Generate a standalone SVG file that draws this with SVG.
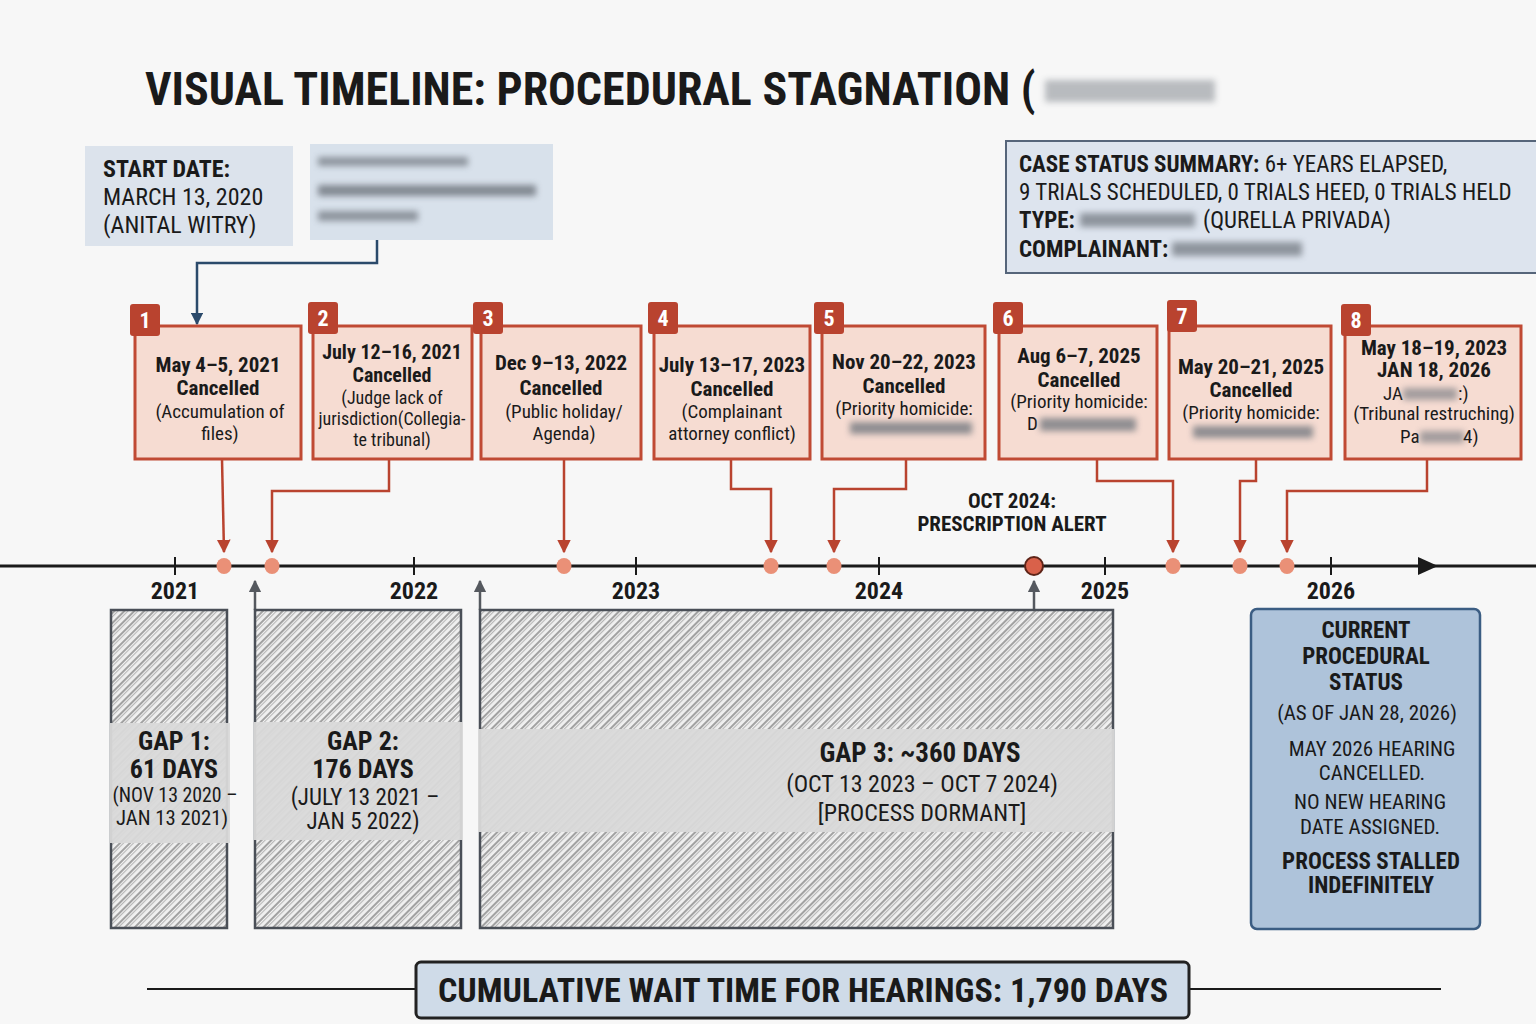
<svg xmlns="http://www.w3.org/2000/svg" width="1536" height="1024" viewBox="0 0 1536 1024">
<style>
text{font-family:"Liberation Sans Narrow","Roboto Condensed","Liberation Sans",Arial,sans-serif;fill:#1a1a1a}
.b{font-weight:bold}
.c{text-anchor:middle}
.ev{fill:#f6dcd2;stroke:#c04a34;stroke-width:3}
.badge{fill:#b9432f}
.bn{fill:#fff;font-weight:bold;font-size:22px;text-anchor:middle}
.et{font-size:21px;font-weight:bold;text-anchor:middle}
.es{font-size:19px;text-anchor:middle}
.con{fill:none;stroke:#b9432f;stroke-width:2.5}
.dot{fill:#ea9077}
.tick{stroke:#1a1a1a;stroke-width:2}
.yr{font-size:24px;font-weight:bold;text-anchor:middle}
.gap{fill:url(#hatch);stroke:#4a4f57;stroke-width:2.5}
.band{fill:#d9d9d9;opacity:0.95}
.gt{font-size:26px;font-weight:bold;text-anchor:middle}
.gs{font-size:22px;text-anchor:middle}
.up{stroke:#55595f;stroke-width:2.5;fill:none}
.blur{fill:#6d737b;filter:url(#bl)}
.st{font-size:23px;font-weight:bold;text-anchor:middle}
.ss{font-size:21px;text-anchor:middle}
.cs{font-size:23px}
</style>
<defs>
<filter id="bl" x="-20%" y="-100%" width="140%" height="300%"><feGaussianBlur stdDeviation="3"/></filter>
<pattern id="hatch" width="7" height="7" patternUnits="userSpaceOnUse" patternTransform="rotate(45)">
<rect width="7" height="7" fill="#f0f0f0"/>
<line x1="2" y1="0" x2="2" y2="7" stroke="#808080" stroke-width="1.4"/>
<line x1="4.6" y1="0" x2="4.6" y2="7" stroke="#a8a8a8" stroke-width="0.9"/>
</pattern>
<marker id="ar" viewBox="0 0 10 10" refX="9" refY="5" markerWidth="5.5" markerHeight="6" markerUnits="strokeWidth" orient="auto"><path d="M0,0 L10,5 L0,10 Z" fill="#b9432f"/></marker>
<marker id="ag" viewBox="0 0 10 10" refX="9" refY="5" markerWidth="5" markerHeight="5" markerUnits="strokeWidth" orient="auto"><path d="M0,0 L10,5 L0,10 Z" fill="#55595f"/></marker>
<marker id="ab" viewBox="0 0 10 10" refX="9" refY="5" markerWidth="5" markerHeight="5" markerUnits="strokeWidth" orient="auto"><path d="M0,0 L10,5 L0,10 Z" fill="#2b4a6b"/></marker>
</defs>
<rect width="1536" height="1024" fill="#f7f7f7"/>

<g id="title">
<text x="145" y="105" class="b" font-size="46">VISUAL TIMELINE: PROCEDURAL STAGNATION (</text>
<rect class="blur" x="1045" y="80" width="170" height="22" opacity="0.45"/>
</g>

<g id="start-box">
<rect x="85" y="146" width="208" height="100" fill="#dce3ec"/>
<text x="103" y="177" class="b" font-size="24">START DATE:</text>
<text x="103" y="205" font-size="24">MARCH 13, 2020</text>
<text x="103" y="233" font-size="24">(ANITAL WITRY)</text>
</g>

<g id="redacted-box">
<rect x="310" y="144" width="243" height="96" fill="#d8e1eb"/>
<rect class="blur" x="318" y="157" width="150" height="9" opacity="0.7"/>
<rect class="blur" x="318" y="185" width="218" height="11" opacity="0.8"/>
<rect class="blur" x="318" y="211" width="100" height="10" opacity="0.7"/>
</g>

<g id="case-status">
<rect x="1006" y="141" width="532" height="132" fill="#dde4ee" stroke="#56657a" stroke-width="2"/>
<text x="1019" y="172" class="cs"><tspan class="b">CASE STATUS SUMMARY:</tspan> 6+ YEARS ELAPSED,</text>
<text x="1019" y="200" class="cs">9 TRIALS SCHEDULED, 0 TRIALS HEED, 0 TRIALS HELD</text>
<text x="1019" y="228" class="cs"><tspan class="b">TYPE:</tspan></text>
<rect class="blur" x="1080" y="213" width="115" height="14" opacity="0.7"/>
<text x="1203" y="228" class="cs">(QURELLA PRIVADA)</text>
<text x="1019" y="257" class="cs b">COMPLAINANT:</text>
<rect class="blur" x="1172" y="242" width="130" height="14" opacity="0.7"/>
</g>

<g id="connectors">
<polyline class="con" points="377,240 377,263 197,263 197,324" style="stroke:#2b4a6b" marker-end="url(#ab)"/>
<polyline class="con" points="222,459 224,552" marker-end="url(#ar)"/>
<polyline class="con" points="389,459 389,491 272,491 272,552" marker-end="url(#ar)"/>
<polyline class="con" points="564,459 564,552" marker-end="url(#ar)"/>
<polyline class="con" points="731,459 731,489 771,489 771,552" marker-end="url(#ar)"/>
<polyline class="con" points="906,459 906,489 834,489 834,552" marker-end="url(#ar)"/>
<polyline class="con" points="1097,459 1097,481 1173,481 1173,552" marker-end="url(#ar)"/>
<polyline class="con" points="1256,459 1256,481 1240,481 1240,552" marker-end="url(#ar)"/>
<polyline class="con" points="1427,459 1427,491 1287,491 1287,552" marker-end="url(#ar)"/>
<line class="up" x1="255" y1="610" x2="255" y2="581" marker-end="url(#ag)"/>
<line class="up" x1="480" y1="610" x2="480" y2="581" marker-end="url(#ag)"/>
<line class="up" x1="1034" y1="610" x2="1034" y2="581" marker-end="url(#ag)"/>
</g>

<g id="event-1">
<rect class="ev" x="135" y="326" width="166" height="133"/>
<rect class="badge" x="130" y="304" width="30" height="32" rx="3"/>
<text class="bn" x="145" y="328">1</text>
<text class="et" x="218" y="372">May 4–5, 2021</text>
<text class="et" x="218" y="395">Cancelled</text>
<text class="es" x="220" y="418">(Accumulation of</text>
<text class="es" x="220" y="440">files)</text>
</g>
<g id="event-2">
<rect class="ev" x="313" y="326" width="159" height="133"/>
<rect class="badge" x="308" y="302" width="30" height="32" rx="3"/>
<text class="bn" x="323" y="326">2</text>
<text class="et" x="392" y="359" style="font-size:20px">July 12–16, 2021</text>
<text class="et" x="392" y="382" style="font-size:20px">Cancelled</text>
<text class="es" x="392" y="404" style="font-size:18px">(Judge lack of</text>
<text class="es" x="392" y="425" style="font-size:18px">jurisdiction(Collegia-</text>
<text class="es" x="392" y="446" style="font-size:18px">te tribunal)</text>
</g>
<g id="event-3">
<rect class="ev" x="481" y="326" width="160" height="133"/>
<rect class="badge" x="473" y="302" width="30" height="32" rx="3"/>
<text class="bn" x="488" y="326">3</text>
<text class="et" x="561" y="370">Dec 9–13, 2022</text>
<text class="et" x="561" y="395">Cancelled</text>
<text class="es" x="564" y="418">(Public holiday/</text>
<text class="es" x="564" y="440">Agenda)</text>
</g>
<g id="event-4">
<rect class="ev" x="654" y="326" width="156" height="133"/>
<rect class="badge" x="648" y="302" width="30" height="32" rx="3"/>
<text class="bn" x="663" y="326">4</text>
<text class="et" x="732" y="372">July 13–17, 2023</text>
<text class="et" x="732" y="396">Cancelled</text>
<text class="es" x="732" y="418">(Complainant</text>
<text class="es" x="732" y="440">attorney conflict)</text>
</g>
<g id="event-5">
<rect class="ev" x="822" y="326" width="163" height="133"/>
<rect class="badge" x="814" y="302" width="30" height="32" rx="3"/>
<text class="bn" x="829" y="326">5</text>
<text class="et" x="904" y="369">Nov 20–22, 2023</text>
<text class="et" x="904" y="393">Cancelled</text>
<text class="es" x="904" y="415">(Priority homicide:</text>
<rect class="blur" x="850" y="422" width="122" height="12" opacity="0.75"/>
</g>
<g id="event-6">
<rect class="ev" x="999" y="326" width="158" height="133"/>
<rect class="badge" x="993" y="302" width="30" height="32" rx="3"/>
<text class="bn" x="1008" y="326">6</text>
<text class="et" x="1079" y="363">Aug 6–7, 2025</text>
<text class="et" x="1079" y="387">Cancelled</text>
<text class="es" x="1079" y="408">(Priority homicide:</text>
<text x="1027" y="430" font-size="19">D</text>
<rect class="blur" x="1040" y="418" width="96" height="13" opacity="0.75"/>
</g>
<g id="event-7">
<rect class="ev" x="1169" y="326" width="162" height="133"/>
<rect class="badge" x="1167" y="300" width="30" height="32" rx="3"/>
<text class="bn" x="1182" y="324">7</text>
<text class="et" x="1251" y="374">May 20–21, 2025</text>
<text class="et" x="1251" y="397">Cancelled</text>
<text class="es" x="1251" y="419">(Priority homicide:</text>
<rect class="blur" x="1193" y="426" width="120" height="12" opacity="0.75"/>
</g>
<g id="event-8">
<rect class="ev" x="1345" y="326" width="176" height="133"/>
<rect class="badge" x="1341" y="304" width="30" height="32" rx="3"/>
<text class="bn" x="1356" y="328">8</text>
<text class="et" x="1434" y="355">May 18–19, 2023</text>
<text class="et" x="1434" y="377">JAN 18, 2026</text>
<text x="1383" y="400" font-size="19">JA</text>
<rect class="blur" x="1403" y="388" width="54" height="12" opacity="0.6"/>
<text x="1458" y="400" font-size="19">:)</text>
<text class="es" x="1434" y="420">(Tribunal restruching)</text>
<text x="1400" y="443" font-size="19">Pa</text>
<rect class="blur" x="1420" y="431" width="44" height="12" opacity="0.6"/>
<text x="1463" y="443" font-size="19">4)</text>
</g>

<g id="axis">
<line x1="0" y1="566" x2="1536" y2="566" stroke="#1a1a1a" stroke-width="3"/>
<path d="M1418,557 L1438,566 L1418,575 Z" fill="#1a1a1a"/>
<line class="tick" x1="175" y1="557" x2="175" y2="575"/>
<line class="tick" x1="414" y1="557" x2="414" y2="575"/>
<line class="tick" x1="636" y1="557" x2="636" y2="575"/>
<line class="tick" x1="879" y1="557" x2="879" y2="575"/>
<line class="tick" x1="1105" y1="557" x2="1105" y2="575"/>
<line class="tick" x1="1331" y1="557" x2="1331" y2="575"/>
<text class="yr" x="175" y="599">2021</text>
<text class="yr" x="414" y="599">2022</text>
<text class="yr" x="636" y="599">2023</text>
<text class="yr" x="879" y="599">2024</text>
<text class="yr" x="1105" y="599">2025</text>
<text class="yr" x="1331" y="599">2026</text>
<ellipse class="dot" cx="224" cy="566" rx="7.5" ry="8"/>
<ellipse class="dot" cx="272" cy="566" rx="7.5" ry="8"/>
<ellipse class="dot" cx="564" cy="566" rx="7.5" ry="8"/>
<ellipse class="dot" cx="771" cy="566" rx="7.5" ry="8"/>
<ellipse class="dot" cx="834" cy="566" rx="7.5" ry="8"/>
<ellipse class="dot" cx="1173" cy="566" rx="7.5" ry="8"/>
<ellipse class="dot" cx="1240" cy="566" rx="7.5" ry="8"/>
<ellipse class="dot" cx="1287" cy="566" rx="7.5" ry="8"/>
</g>

<g id="alert">
<circle cx="1034" cy="566" r="9" fill="#d9614a" stroke="#5e2418" stroke-width="2"/>
<text class="c b" x="1012" y="508" font-size="21">OCT 2024:</text>
<text class="c b" x="1012" y="531" font-size="21">PRESCRIPTION ALERT</text>
</g>

<g id="gap-1">
<rect class="gap" x="111" y="610" width="116" height="318"/>
<rect class="band" x="110" y="723" width="120" height="120"/>
<text class="gt" x="174" y="750">GAP 1:</text>
<text class="gt" x="174" y="778">61 DAYS</text>
<text class="gs" x="175" y="802" style="font-size:20px" textLength="125" lengthAdjust="spacingAndGlyphs">(NOV 13 2020 –</text>
<text class="gs" x="172" y="825" style="font-size:20px" textLength="112" lengthAdjust="spacingAndGlyphs">JAN 13 2021)</text>
</g>
<g id="gap-2">
<rect class="gap" x="255" y="610" width="206" height="318"/>
<rect class="band" x="254" y="722" width="209" height="118"/>
<text class="gt" x="363" y="750">GAP 2:</text>
<text class="gt" x="363" y="778">176 DAYS</text>
<text class="gs" x="365" y="805" style="font-size:23px">(JULY 13 2021 –</text>
<text class="gs" x="363" y="829" style="font-size:23px">JAN 5 2022)</text>
</g>
<g id="gap-3">
<rect class="gap" x="480" y="610" width="633" height="318"/>
<rect class="band" x="478" y="729" width="636" height="103"/>
<text class="gt" x="920" y="762" style="font-size:27px">GAP 3: ~360 DAYS</text>
<text class="gs" x="922" y="792" style="font-size:24px">(OCT 13 2023 – OCT 7 2024)</text>
<text class="gs" x="922" y="821" style="font-size:24px">[PROCESS DORMANT]</text>
</g>

<g id="current-status">
<rect x="1251" y="609" width="229" height="320" rx="6" fill="#aec3da" stroke="#3b5d83" stroke-width="2.5"/>
<text class="st" x="1366" y="638">CURRENT</text>
<text class="st" x="1366" y="664">PROCEDURAL</text>
<text class="st" x="1366" y="690">STATUS</text>
<text class="ss" x="1367" y="720">(AS OF JAN 28, 2026)</text>
<text class="ss" x="1372" y="756">MAY 2026 HEARING</text>
<text class="ss" x="1372" y="780">CANCELLED.</text>
<text class="ss" x="1370" y="809">NO NEW HEARING</text>
<text class="ss" x="1370" y="834">DATE ASSIGNED.</text>
<text class="st" x="1371" y="869">PROCESS STALLED</text>
<text class="st" x="1371" y="893">INDEFINITELY</text>
</g>

<g id="cumulative">
<line x1="147" y1="989" x2="1441" y2="989" stroke="#1a1a1a" stroke-width="2"/>
<rect x="416" y="962" width="773" height="56" rx="5" fill="#cfdbe8" stroke="#222" stroke-width="3"/>
<text class="c b" x="803" y="1002" font-size="34">CUMULATIVE WAIT TIME FOR HEARINGS: 1,790 DAYS</text>
</g>
</svg>
